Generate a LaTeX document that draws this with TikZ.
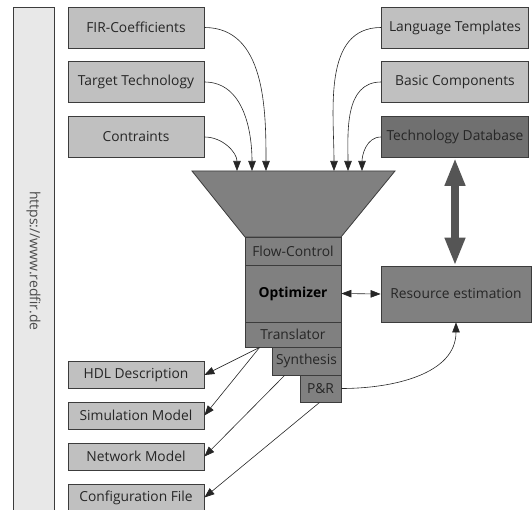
\documentclass[tikz,border=0pt]{standalone}
\usepackage{fontspec}
\setmainfont{Open Sans}
\usetikzlibrary{arrows.meta}

\definecolor{sidegray}{HTML}{E8E8E8}
\definecolor{boxlight}{HTML}{C0C0C0}
\definecolor{stackgray}{HTML}{808080}
\definecolor{techgray}{HTML}{707070}
\definecolor{fatgray}{HTML}{555555}
\definecolor{edgegray}{HTML}{3C3C3C}

\begin{document}
\begin{tikzpicture}[
  x=1pt, y=1pt,
  >={Triangle[length=10pt,width=7.5pt]},
  box/.style={draw=edgegray,line width=0.8pt,text=black!85,inner sep=0pt,
              font=\fontsize{13.8}{15}\selectfont},
  lightbox/.style={box,fill=boxlight,minimum width=136pt,minimum height=41pt},
  rightbox/.style={box,fill=boxlight,minimum width=147pt,minimum height=41pt},
  outbox/.style={box,fill=boxlight,minimum width=136pt,minimum height=27pt},
  stackbox/.style={box,fill=stackgray},
  sidebar/.style={box,fill=sidegray,text=black!70,rotate=-90,
                  minimum width=508pt,minimum height=41pt,
                  font=\fontsize{14}{15}\selectfont},
  conn/.style={draw=black!85,line width=0.6pt},
  fatarrow/.style={fatgray,line width=8pt,
                   {Triangle[length=28pt,width=19pt]}-{Triangle[length=28pt,width=19pt]}},
]
\useasboundingbox (0,0) rectangle (532,-510);

% ===================================================================
% Side bar
% ===================================================================
\node[sidebar] (web) at (33.5,-261) {https://www.redfir.de};

% ===================================================================
% Inputs
% ===================================================================
\node[lightbox] (fir)    at (136,-27.5) {FIR-Coefficients};
\node[lightbox] (target) at (136,-82)   {Target Technology};
\node[lightbox] (constr) at (136,-137)  {Contraints};

\node[rightbox] (lang)  at (455,-27.5) {Language Templates};
\node[rightbox] (basic) at (455,-82)   {Basic Components};
\node[rightbox,fill=techgray] (techdb) at (455,-137) {Technology Database};

% ===================================================================
% Funnel and tool stack
% ===================================================================
\filldraw[fill=stackgray,draw=edgegray,line width=0.8pt]
  (192,-171) -- (395,-171) -- (341,-237) -- (245,-237) -- cycle;
\coordinate (inA) at (237,-171);
\coordinate (inB) at (252,-171);
\coordinate (inC) at (266,-171);
\coordinate (inD) at (334,-171);
\coordinate (inE) at (348,-171);
\coordinate (inF) at (362,-171);

\node[stackbox,minimum width=96pt,minimum height=28pt] (flow)  at (293,-251)   {Flow-Control};
\node[stackbox,minimum width=96pt,minimum height=57pt,
      font=\fontsize{13.8}{15}\selectfont\bfseries,text=black] (opt) at (293,-293.5) {Optimizer};
\node[stackbox,minimum width=96pt,minimum height=25pt] (trans) at (293,-334.5) {Translator};
\node[stackbox,minimum width=69pt,minimum height=28pt] (synth) at (306.5,-361) {Synthesis};
\node[stackbox,minimum width=41pt,minimum height=27pt] (pr)    at (320.5,-388.5) {P\&R};

\node[stackbox,minimum width=150pt,minimum height=56pt] (res) at (456,-294) {Resource estimation};

% ===================================================================
% Outputs
% ===================================================================
\node[outbox] (hdl)  at (136,-375)   {HDL Description};
\node[outbox] (sim)  at (136,-415.5) {Simulation Model};
\node[outbox] (net)  at (136,-456.5) {Network Model};
\node[outbox] (conf) at (136,-497.5) {Configuration File};

% ===================================================================
% Connectors
% ===================================================================
\draw[conn,->] (fir.east)    to[out=0,in=90]   (inC);
\draw[conn,->] (target.east) to[out=0,in=90]   (inB);
\draw[conn,->] (constr.east) to[out=0,in=90]   (inA);
\draw[conn,->] (lang.west)   to[out=180,in=90] (inD);
\draw[conn,->] (basic.west)  to[out=180,in=90] (inE);
\draw[conn,->] (techdb.west) to[out=180,in=90] (inF);

\draw[fatarrow] (techdb.south) -- (techdb.south |- res.north);
\draw[conn,<->] (opt.east) -- (res.west);

\draw[conn,->] ([xshift=15pt]trans.south west) -- (hdl.east);
\draw[conn,->] ([xshift=15pt]trans.south west) -- (sim.east);
\draw[conn,->] ([xshift=13pt]synth.south west) -- (net.east);
\draw[conn,->] ([xshift=20pt]pr.south west)    -- (conf.east);
\draw[conn,->] (pr.east) to[out=0,in=-90] (res.south);

\end{tikzpicture}
\end{document}
